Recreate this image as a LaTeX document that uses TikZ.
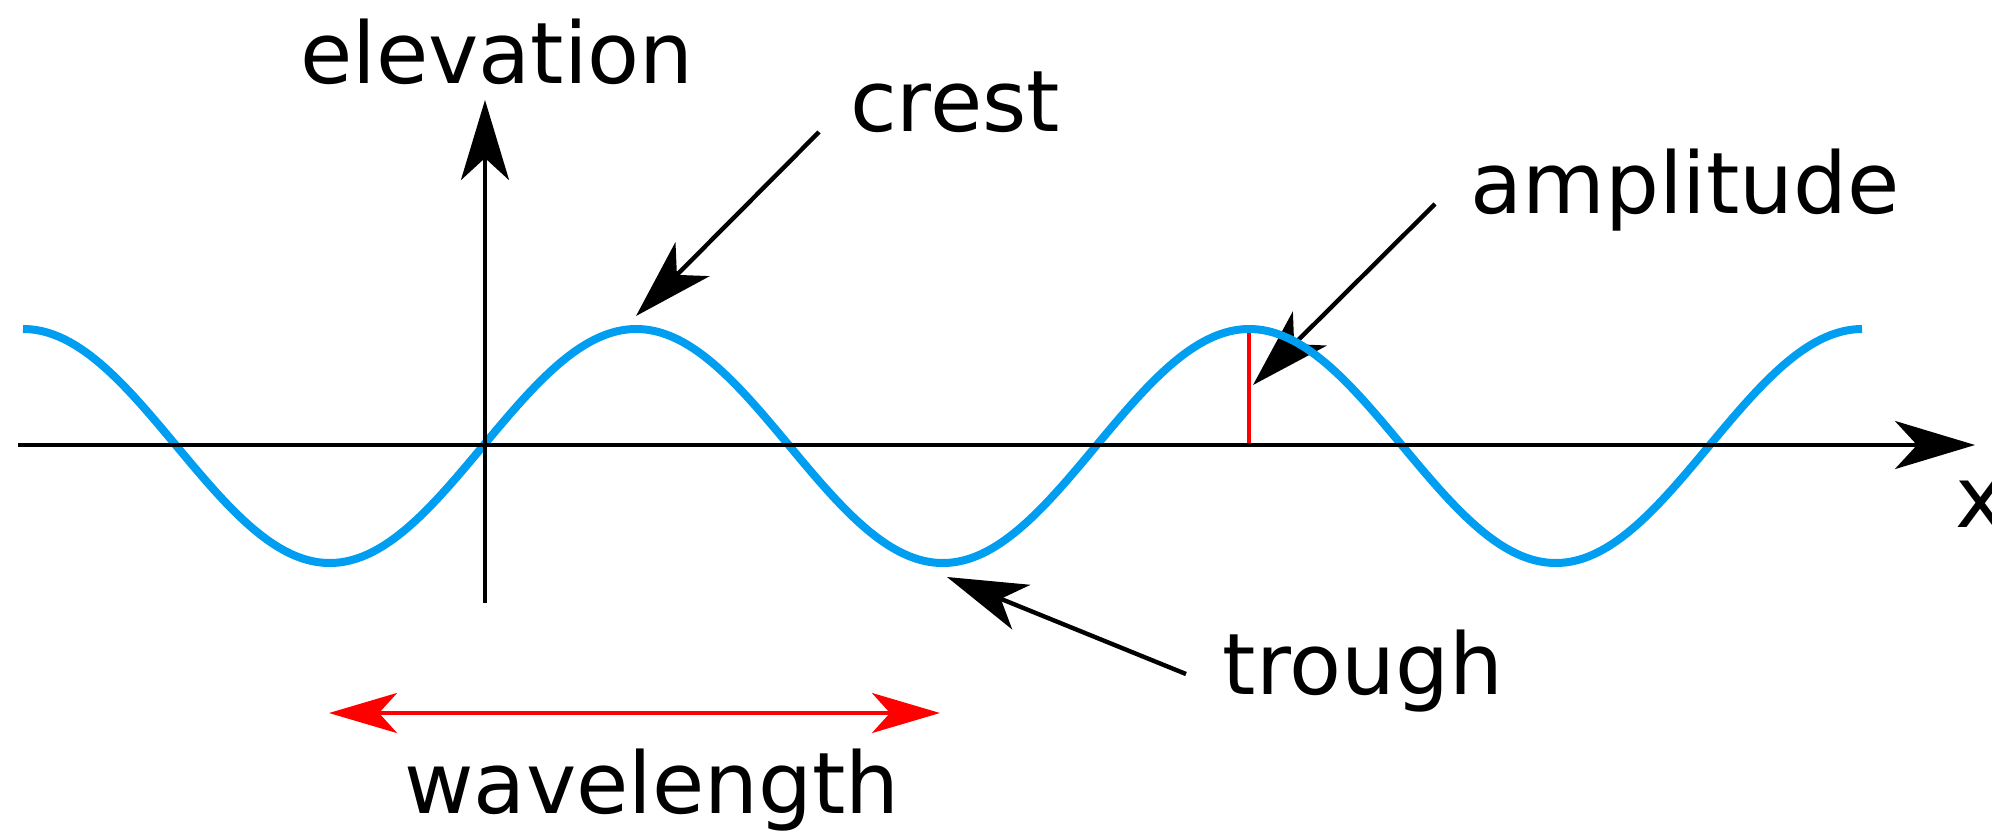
\documentclass[tikz,border=0pt]{standalone}
\usepackage{fontspec}
\setmainfont{DejaVu Sans}
\usetikzlibrary{arrows.meta}
\definecolor{wavecol}{RGB}{0,158,240}
\definecolor{redcol}{RGB}{255,0,0}
\begin{document}
\begin{tikzpicture}[x=0.5pt,y=-0.5pt,
  lbl/.style={font=\fontsize{42.5pt}{50pt}\selectfont, inner sep=0pt, anchor=base},
  bigtip/.style={-{Stealth[length=40pt,width=24pt,inset=11pt]}},
  axisline/.style={draw=black, line width=2.2pt, bigtip},
  pointer/.style={draw=black, line width=2.2pt, bigtip},
  wavestyle/.style={draw=wavecol, line width=4pt},
  ampline/.style={draw=redcol, line width=1.8pt},
  wlarrow/.style={draw=redcol, line width=2pt,
    {Stealth[length=34pt,width=20pt,inset=9pt]}-{Stealth[length=34pt,width=20pt,inset=9pt]}}
]
\useasboundingbox (0,0) rectangle (1992,832);

% coordinates
\coordinate (xstart) at (18,445);
\coordinate (xend) at (1975,445);
\coordinate (ybot) at (485,603);
\coordinate (ytop) at (485,100);
\coordinate (crestTail) at (819,132);
\coordinate (crestTip) at (636,316);
\coordinate (ampTail) at (1435,204);
\coordinate (ampTip) at (1253,385);
\coordinate (troughTail) at (1186,674);
\coordinate (troughTip) at (947,577);
\coordinate (wlLeft) at (329,713);
\coordinate (wlRight) at (940,713);
\coordinate (ampTop) at (1249,331);
\coordinate (ampBot) at (1249,445);

% labels
\node[lbl] (elev) at (497,83) {elevation};
\node[lbl] (crest) at (955,131) {crest};
\node[lbl] (amp) at (1685,213) {amplitude};
\node[lbl] (trough) at (1363,694) {trough};
\node[lbl] (wl) at (652,813) {wavelength};
\node[lbl, anchor=base west] (xl) at (1955,527) {x};

% amplitude pointer and red line (under the wave)
\draw[pointer] (ampTail) -- (ampTip);
\draw[ampline] (ampBot) -- (ampTop);

% the wave
\draw[wavestyle] plot[domain=23:1862, samples=400, smooth]
  (\x, {446 - 117*sin((\x-483)/613*360)});

% axes
\draw[axisline] (xstart) -- (xend);
\draw[axisline] (ybot) -- (ytop);

% pointers
\draw[pointer] (crestTail) -- (crestTip);
\draw[pointer] (troughTail) -- (troughTip);
\draw[wlarrow] (wlLeft) -- (wlRight);
\end{tikzpicture}
\end{document}
